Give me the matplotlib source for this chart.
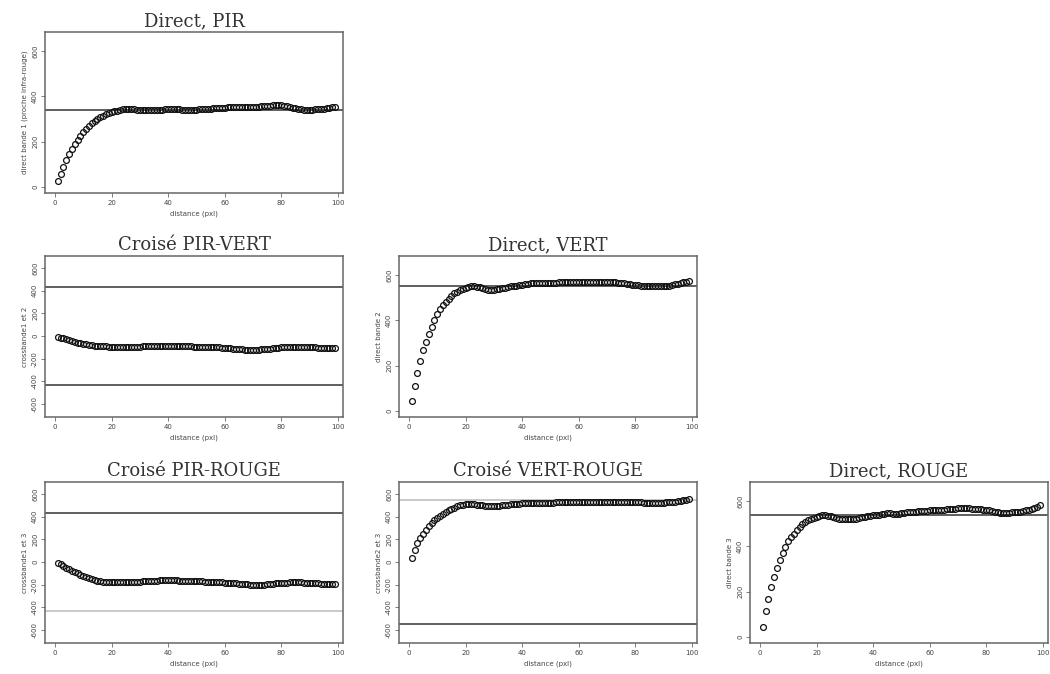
import numpy as np
import matplotlib
matplotlib.use("Agg")
import matplotlib.pyplot as plt

# lag distances (pixels)
lags = np.arange(1, 100)

direct_pir = [25, 58, 88, 117, 143, 167, 189, 208, 226, 242,
              256, 269, 281, 291, 300, 308, 315, 321, 326, 330,
              334, 337, 340, 342, 343, 344, 343, 342, 341, 340,
              339, 339, 338, 338, 339, 340, 341, 341, 342, 342,
              342, 343, 343, 342, 341, 341, 340, 340, 341, 341,
              342, 343, 344, 345, 346, 347, 348, 349, 350, 350,
              351, 351, 352, 352, 352, 353, 353, 353, 353, 354,
              354, 355, 356, 357, 358, 359, 360, 361, 361, 360,
              358, 356, 353, 350, 347, 344, 342, 341, 340, 340,
              341, 342, 343, 344, 345, 347, 349, 351, 352]

direct_vert = [44, 111, 167, 219, 267, 304, 341, 370, 400, 428,
               449, 467, 483, 496, 508, 519, 527, 533, 539, 544,
               548, 551, 551, 549, 546, 542, 538, 535, 534, 535,
               537, 540, 543, 545, 548, 550, 552, 554, 556, 558,
               560, 562, 564, 565, 566, 566, 566, 565, 565, 566,
               567, 567, 568, 568, 569, 569, 570, 570, 570, 570,
               570, 569, 569, 569, 570, 570, 570, 570, 569, 569,
               569, 568, 568, 567, 566, 564, 562, 560, 558, 556,
               555, 554, 553, 553, 552, 552, 552, 552, 552, 553,
               553, 554, 556, 559, 562, 566, 569, 572, 575]

direct_rouge = [44, 113, 169, 221, 265, 304, 341, 372, 399, 422,
                440, 456, 471, 485, 497, 507, 515, 522, 527, 532,
                535, 537, 537, 536, 534, 531, 527, 523, 520, 519,
                519, 520, 521, 523, 525, 528, 531, 533, 535, 537,
                539, 541, 543, 545, 546, 546, 545, 545, 545, 546,
                548, 550, 551, 553, 554, 555, 556, 557, 558, 559,
                560, 561, 562, 563, 563, 564, 565, 566, 567, 569,
                570, 570, 569, 568, 567, 566, 565, 564, 563, 562,
                560, 557, 554, 551, 549, 548, 548, 549, 550, 550,
                551, 553, 556, 559, 563, 567, 571, 576, 581]

cross_pir_vert = [-5, -14, -22, -30, -38, -46, -53, -60, -66, -71,
                  -75, -79, -82, -85, -87, -89, -91, -93, -95, -97,
                  -98, -98, -97, -96, -96, -95, -95, -95, -94, -94,
                  -93, -93, -92, -92, -91, -91, -90, -89, -88, -87,
                  -87, -87, -88, -89, -90, -91, -92, -93, -94, -94,
                  -95, -96, -97, -98, -99, -100, -101, -102, -104, -106,
                  -108, -110, -112, -114, -116, -118, -120, -122, -123, -123,
                  -122, -121, -119, -117, -115, -112, -109, -106, -103, -100,
                  -98, -97, -96, -95, -95, -96, -97, -98, -99, -100,
                  -101, -102, -103, -104, -105, -106, -107, -108, -109]

cross_pir_rouge = [-9, -22, -36, -50, -64, -77, -90, -102, -114, -125,
                   -135, -144, -152, -159, -165, -170, -174, -177, -179, -180,
                   -180, -179, -178, -177, -176, -175, -174, -174, -173, -173,
                   -172, -171, -170, -168, -166, -164, -162, -161, -160, -160,
                   -161, -162, -163, -164, -165, -166, -167, -168, -169, -170,
                   -171, -172, -173, -174, -175, -176, -177, -178, -180, -182,
                   -184, -186, -188, -190, -192, -194, -196, -198, -200, -202,
                   -203, -203, -202, -200, -198, -196, -193, -190, -187, -185,
                   -183, -182, -181, -180, -180, -180, -181, -182, -183, -184,
                   -186, -188, -190, -191, -193, -194, -195, -196, -197]

cross_vert_rouge = [39, 104, 164, 209, 248, 284, 315, 343, 367, 388,
                    407, 424, 440, 454, 467, 478, 489, 499, 504, 507,
                    509, 509, 508, 506, 503, 500, 497, 495, 493, 493,
                    494, 496, 499, 502, 505, 508, 511, 513, 515, 516,
                    517, 518, 519, 520, 521, 522, 522, 523, 523, 524,
                    524, 525, 525, 526, 526, 527, 527, 528, 528, 528,
                    529, 529, 529, 530, 530, 530, 531, 531, 531, 531,
                    531, 531, 531, 530, 530, 529, 529, 528, 528, 527,
                    526, 525, 524, 523, 522, 521, 521, 521, 522, 523,
                    525, 527, 530, 533, 537, 541, 545, 549, 552]

# reference lines: sills for direct, +/- bounds for crossed
sill_pir, sill_vert, sill_rouge = 341, 553, 541
bound_pir_vert = 434
bound_pir_rouge = 430
bound_vert_rouge = 550

direct_ticks = [0, 200, 400, 600]
cross_ticks = [-600, -400, -200, 0, 200, 400, 600]
x_ticks = [0, 20, 40, 60, 80, 100]

W, H = 1050, 674
fig = plt.figure(figsize=(W / 100, H / 100), dpi=100)

FRAME = '#666666'
TXT = '#444444'


def make_ax(left, top, width=298, height=161):
    ax = fig.add_axes([left / W, 1 - (top + height) / H, width / W, height / H])
    for s in ax.spines.values():
        s.set_color(FRAME)
        s.set_linewidth(1.1)
    ax.tick_params(length=3, width=0.6, color=FRAME, labelsize=5, pad=2,
                   labelcolor=TXT)
    ax.set_xlim(-3.5, 101.8)
    ax.set_xticks(x_ticks)
    ax.set_xlabel('distance (pxl)', fontsize=5, color=TXT, labelpad=3)
    return ax


def panel(ax, title, ylabel, values, ticks, ylim, lines):
    ax.set_title(title, fontsize=13, family='DejaVu Serif', pad=4, color='#333333')
    ax.set_ylabel(ylabel, fontsize=5, color=TXT, labelpad=3)
    ax.set_ylim(*ylim)
    ax.set_yticks(ticks)
    ax.set_yticklabels([str(t) for t in ticks], rotation=90, va='center')
    for yv, col in lines:
        ax.axhline(yv, color=col, lw=1.1, zorder=1)
    ax.plot(lags, values, 'o', ms=4.2, mfc='none', mec='#111111', mew=0.9, zorder=2)


ylim_d = (-28, 685)
ylim_c = (-715, 705)

ax = make_ax(45, 32)
panel(ax, 'Direct, PIR', 'direct bande 1 (proche infra-rouge)', direct_pir,
      direct_ticks, ylim_d, [(sill_pir, '#333333')])

ax = make_ax(45, 256)
panel(ax, 'Croisé PIR-VERT', 'crossbande1 et 2', cross_pir_vert,
      cross_ticks, ylim_c, [(bound_pir_vert, '#333333'), (-bound_pir_vert, '#333333')])

ax = make_ax(399, 256)
panel(ax, 'Direct, VERT', 'direct bande 2', direct_vert,
      direct_ticks, ylim_d, [(sill_vert, '#333333')])

ax = make_ax(45, 482)
panel(ax, 'Croisé PIR-ROUGE', 'crossbande1 et 3', cross_pir_rouge,
      cross_ticks, ylim_c, [(bound_pir_rouge, '#333333'), (-bound_pir_rouge, '#bbbbbb')])

ax = make_ax(399, 482)
panel(ax, 'Croisé VERT-ROUGE', 'crossbande2 et 3', cross_vert_rouge,
      cross_ticks, ylim_c, [(bound_vert_rouge, '#bbbbbb'), (-bound_vert_rouge, '#333333')])

ax = make_ax(750, 482)
panel(ax, 'Direct, ROUGE', 'direct bande 3', direct_rouge,
      direct_ticks, ylim_d, [(sill_rouge, '#333333')])

fig.savefig('out.png', dpi=100)
